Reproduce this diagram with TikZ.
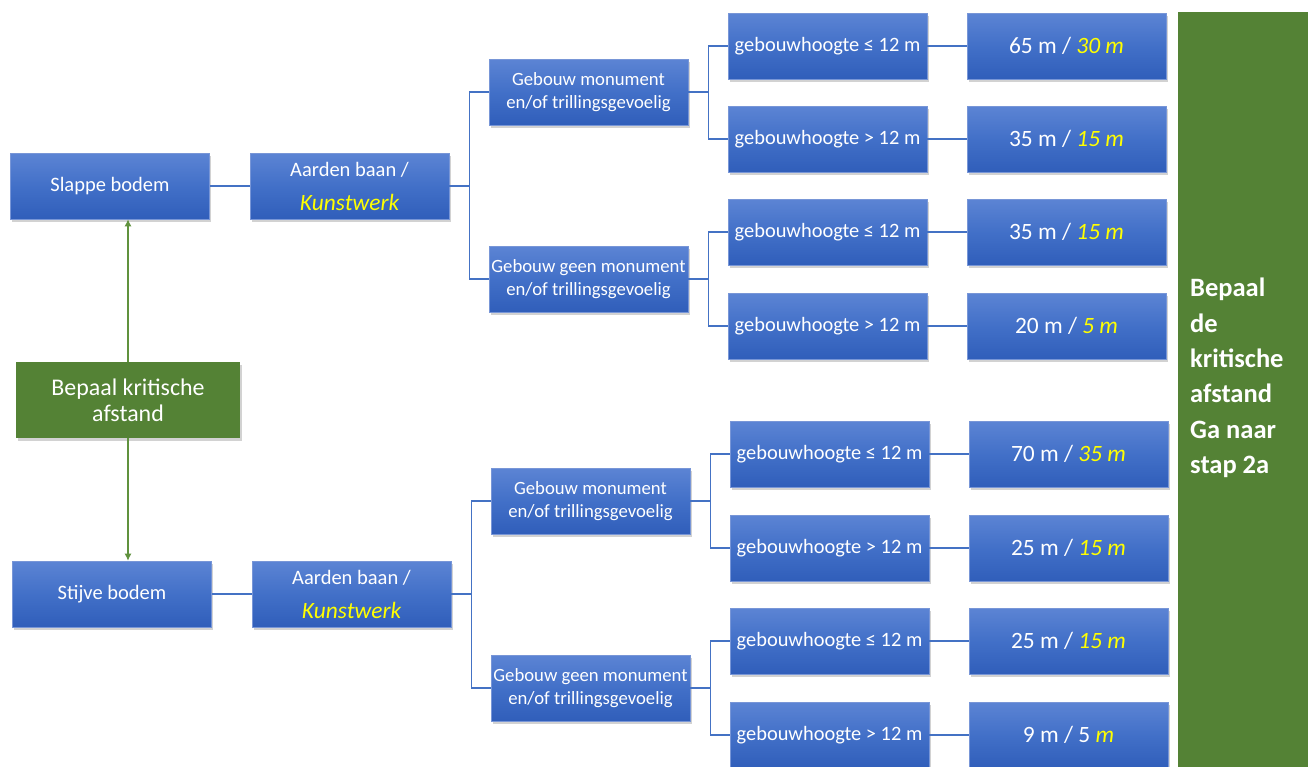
\documentclass[tikz,border=0pt]{standalone}
\usepackage{fontspec}
\setmainfont{Carlito}
\usetikzlibrary{shadows,arrows.meta}
\definecolor{boxtop}{RGB}{92,132,212}
\definecolor{boxmid}{RGB}{66,112,200}
\definecolor{boxbot}{RGB}{48,94,186}
\definecolor{boxedge}{RGB}{120,150,215}
\definecolor{linkblue}{RGB}{68,114,196}
\definecolor{leafgreen}{RGB}{84,130,53}
\definecolor{arrowgreen}{RGB}{96,146,62}
\definecolor{hl}{HTML}{FFFF00}
\newcommand{\hlit}[1]{{\color{hl}\itshape #1}}
\tikzset{
  x=1pt, y=-1pt,
  bluebox/.style={rectangle, draw=boxedge, line width=0.6pt,
    top color=boxtop, bottom color=boxbot, middle color=boxmid,
    text=white, minimum width=199pt, minimum height=66pt, inner sep=1pt,
    align=center,
    drop shadow={opacity=0.35, shadow xshift=1.5pt, shadow yshift=-2.5pt}},
  greenbox/.style={rectangle, fill=leafgreen, text=white, inner sep=0pt,
    drop shadow={opacity=0.35, shadow xshift=1.5pt, shadow yshift=-2.5pt}},
  link/.style={draw=linkblue, line width=1.3pt},
  garrow/.style={draw=arrowgreen, line width=1.2pt, -{Latex[length=7pt,width=7pt]}},
  soil/.style={font=\fontsize{20.5}{24}\selectfont},
  kind/.style={font=\fontsize{18.7}{23}\selectfont},
  height/.style={font=\fontsize{20.4}{24}\selectfont},
  dist/.style={font=\fontsize{23.4}{28}\selectfont},
}
\begin{document}
\begin{tikzpicture}
\useasboundingbox (0,0) rectangle (1308,766);
\fill[white] (0,0) rectangle (1308,766);

% start
\node[greenbox, minimum width=224pt, minimum height=76pt, align=center,
      font=\fontsize{23.9}{26}\selectfont] (start) at (128,400) {Bepaal kritische\\afstand};

% soil types
\node[bluebox, soil] (soft) at (110,186) {Slappe bodem};
\node[bluebox, soil] (stiff) at (112,594) {Stijve bodem};

% construction type
\node[bluebox, soil] (cons1) at (349.5,186)
  {Aarden baan /\\[10pt]{\fontsize{23.4}{28}\selectfont\hlit{Kunstwerk}}};
\node[bluebox, soil] (cons2) at (351.5,594)
  {Aarden baan /\\[10pt]{\fontsize{23.4}{28}\selectfont\hlit{Kunstwerk}}};

% building category
\node[bluebox, kind] (mon1)  at (588.5,92)  {Gebouw monument\\en/of trillingsgevoelig};
\node[bluebox, kind] (nmon1) at (588.5,279) {Gebouw geen monument\\en/of trillingsgevoelig};
\node[bluebox, kind] (mon2)  at (590.5,501) {Gebouw monument\\en/of trillingsgevoelig};
\node[bluebox, kind] (nmon2) at (590.5,688) {Gebouw geen monument\\en/of trillingsgevoelig};

% building height
\node[bluebox, height] (h1) at (827.5,46)  {gebouwhoogte ≤ 12 m};
\node[bluebox, height] (h2) at (827.5,139) {gebouwhoogte > 12 m};
\node[bluebox, height] (h3) at (827.5,232) {gebouwhoogte ≤ 12 m};
\node[bluebox, height] (h4) at (827.5,326) {gebouwhoogte > 12 m};
\node[bluebox, height] (h5) at (829.5,454) {gebouwhoogte ≤ 12 m};
\node[bluebox, height] (h6) at (829.5,548) {gebouwhoogte > 12 m};
\node[bluebox, height] (h7) at (829.5,641) {gebouwhoogte ≤ 12 m};
\node[bluebox, height] (h8) at (829.5,735) {gebouwhoogte > 12 m};

% critical distances
\node[bluebox, dist] (d1) at (1066.5,46)  {65 m / \hlit{30 m}};
\node[bluebox, dist] (d2) at (1066.5,139) {35 m / \hlit{15 m}};
\node[bluebox, dist] (d3) at (1066.5,232) {35 m / \hlit{15 m}};
\node[bluebox, dist] (d4) at (1066.5,326) {20 m / \hlit{5 m}};
\node[bluebox, dist] (d5) at (1068.5,454) {70 m / \hlit{35 m}};
\node[bluebox, dist] (d6) at (1068.5,548) {25 m / \hlit{15 m}};
\node[bluebox, dist] (d7) at (1068.5,641) {25 m / \hlit{15 m}};
\node[bluebox, dist] (d8) at (1068.5,735) {9 m / 5 \hlit{m}};

% side panel
\node[greenbox, minimum width=130pt, minimum height=770pt, anchor=north west] (side) at (1178,12) {};
\node[anchor=west, text=white, align=left, inner sep=0pt,
      font=\bfseries\fontsize{26.5}{35.4}\selectfont] (sidetext) at (1190,378)
  {Bepaal\\de\\kritische\\afstand\\Ga naar\\stap 2a};

% connectors
\draw[garrow] (start.north) -- (start.north |- soft.south);
\draw[garrow] (start.south) -- (start.south |- stiff.north);

\draw[link] (soft) -- (cons1);
\draw[link] (stiff) -- (cons2);

\draw[link] (cons1.east) -- ++(20,0) |- (mon1.west);
\draw[link] (cons1.east) -- ++(20,0) |- (nmon1.west);
\draw[link] (cons2.east) -- ++(20,0) |- (mon2.west);
\draw[link] (cons2.east) -- ++(20,0) |- (nmon2.west);

\draw[link] (mon1.east)  -- ++(20,0) |- (h1.west);
\draw[link] (mon1.east)  -- ++(20,0) |- (h2.west);
\draw[link] (nmon1.east) -- ++(20,0) |- (h3.west);
\draw[link] (nmon1.east) -- ++(20,0) |- (h4.west);
\draw[link] (mon2.east)  -- ++(20,0) |- (h5.west);
\draw[link] (mon2.east)  -- ++(20,0) |- (h6.west);
\draw[link] (nmon2.east) -- ++(20,0) |- (h7.west);
\draw[link] (nmon2.east) -- ++(20,0) |- (h8.west);

\draw[link] (h1) -- (d1);
\draw[link] (h2) -- (d2);
\draw[link] (h3) -- (d3);
\draw[link] (h4) -- (d4);
\draw[link] (h5) -- (d5);
\draw[link] (h6) -- (d6);
\draw[link] (h7) -- (d7);
\draw[link] (h8) -- (d8);
\end{tikzpicture}
\end{document}
